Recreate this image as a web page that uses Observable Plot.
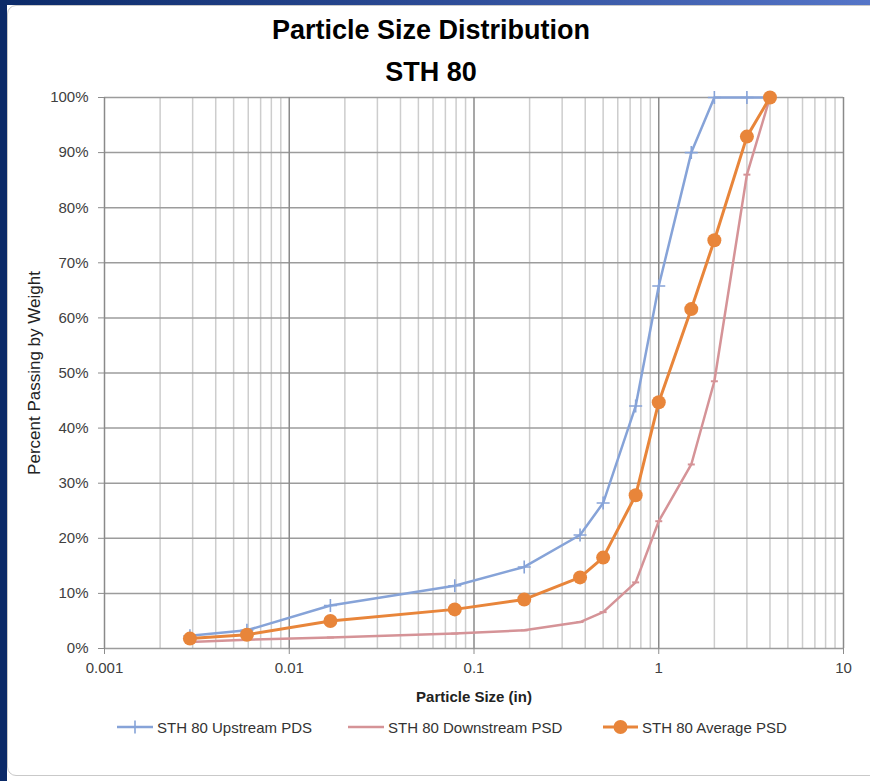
<!DOCTYPE html>
<html>
<head>
<meta charset="utf-8">
<script src="https://cdn.jsdelivr.net/npm/d3@7"></script>
<script src="https://cdn.jsdelivr.net/npm/@observablehq/plot@0.6"></script>
<style>
  html, body { margin: 0; padding: 0; background: #ffffff; }
  #page { position: relative; width: 870px; height: 781px; overflow: hidden; font-family: "Liberation Sans", Arial, sans-serif; }
  #leftband { position: absolute; left: 0; top: 0; width: 7px; height: 781px; background: #0b2a68; }
  #topband { position: absolute; left: 0; top: 0; width: 870px; height: 5px; background: linear-gradient(to right, #0b2a68, #2c4b96 50%, #5575c8); }
  #card { position: absolute; left: 7px; top: 5px; width: 866px; height: 771px; background: #fff; border: 1px solid #c9c9c9; border-radius: 9px 0 0 9px; box-sizing: border-box; }
  .title { position: absolute; left: 0; width: 862px; text-align: center; font-weight: bold; font-size: 27px; line-height: 27px; color: #000; }
  #chart { position: absolute; left: 0; top: 85px; }
  .leg { position: absolute; top: 718px; height: 18px; display: flex; align-items: center; font-size: 15px; color: #333; white-space: nowrap; }
  .leg svg { display: block; margin-right: 4px; }
</style>
</head>
<body>
<div id="page">
  <div id="topband"></div>
  <div id="leftband"></div>
  <div id="card"></div>
  <div class="title" style="top:17px">Particle Size Distribution</div>
  <div class="title" style="top:59px">STH 80</div>
  <div id="chart"></div>
  <div id="legend"></div>
</div>
<script>
// ---- data ----
const sizes = [0.0029, 0.0059, 0.0167, 0.0787, 0.187, 0.375, 0.5, 0.75, 1, 1.5, 2, 3, 4];
const upstream = [2.3, 3.3, 7.8, 11.4, 14.8, 20.6, 26.4, 44.0, 65.8, 90.0, 100, 100, 100];
const downstream = [1.2, 1.6, 2.0, 2.7, 3.3, 4.8, 6.6, 12.0, 23.1, 33.4, 48.5, 86.0, 100];
const average = [1.8, 2.5, 5.0, 7.1, 8.9, 12.9, 16.5, 27.8, 44.7, 61.6, 74.1, 92.9, 100];
const seriesNames = ["STH 80 Upstream PDS", "STH 80 Downstream PSD", "STH 80 Average PSD"];
const xTicks = [0.001, 0.01, 0.1, 1, 10];
const xTickLabels = ["0.001", "0.01", "0.1", "1", "10"];
const yTicks = [0, 10, 20, 30, 40, 50, 60, 70, 80, 90, 100];
const xLabel = "Particle Size (in)";
const yLabel = "Percent Passing by Weight";

const blue = "#86a3d8", pink = "#d59397", orange = "#e8853a";

const toRows = vals => sizes.map((s, i) => ({size: s, pct: vals[i]}));
const upRows = toRows(upstream), downRows = toRows(downstream), avgRows = toRows(average);

// minor log gridlines 2..9 within each decade
const minor = [];
for (let i = 0; i < xTicks.length - 1; i++) for (let k = 2; k <= 9; k++) minor.push(k * xTicks[i]);

const plusSym = { draw(ctx, size) { const r = Math.sqrt(size / Math.PI); ctx.moveTo(-r, 0); ctx.lineTo(r, 0); ctx.moveTo(0, -r); ctx.lineTo(0, r); } };
const dashSym = { draw(ctx, size) { const r = Math.sqrt(size / Math.PI); ctx.moveTo(-r, 0); ctx.lineTo(r, 0); } };

const chart = Plot.plot({
  width: 870, height: 630,
  marginLeft: 104, marginRight: 27, marginTop: 12, marginBottom: 67,
  style: { fontFamily: "Liberation Sans, Arial, sans-serif", fontSize: "15px", color: "#404040", background: "transparent", overflow: "visible" },
  x: { type: "log", domain: [0.001, 10] },
  y: { domain: [0, 100] },
  marks: [
    Plot.ruleX(minor, { stroke: "#cdcdcd", strokeWidth: 1.5 }),
    Plot.ruleY(yTicks, { stroke: "#9c9c9c", strokeWidth: 1.5 }),
    Plot.ruleX(xTicks, { stroke: "#8a8a8a", strokeWidth: 1.5 }),
    Plot.axisY({ ticks: yTicks, tickFormat: d => d + "%", tickSize: 6, tickPadding: 10, stroke: "#8c8c8c", label: null, fill: "#404040" }),
    Plot.axisX({ ticks: xTicks, tickFormat: d => xTickLabels[xTicks.indexOf(d)], tickSize: 6, tickPadding: 8, stroke: "#8c8c8c", label: null, fill: "#404040" }),
    Plot.text([xLabel], { text: d => d, frameAnchor: "bottom", dy: 53, fontWeight: "bold", fontSize: 15, fill: "#222" }),
    Plot.text([yLabel], { text: d => d, frameAnchor: "left", textAnchor: "middle", dx: -70, rotate: -90, fontSize: 17, fill: "#222" }),
    Plot.line(upRows, { x: "size", y: "pct", stroke: blue, strokeWidth: 2.5, strokeLinejoin: "round" }),
    Plot.dot(upRows, { x: "size", y: "pct", symbol: plusSym, r: 6.5, stroke: blue, strokeWidth: 1.6, fill: "none" }),
    Plot.line(downRows, { x: "size", y: "pct", stroke: pink, strokeWidth: 2.5, strokeLinejoin: "round" }),
    Plot.dot(downRows, { x: "size", y: "pct", symbol: dashSym, r: 3.5, stroke: pink, strokeWidth: 2, fill: "none" }),
    Plot.line(avgRows, { x: "size", y: "pct", stroke: orange, strokeWidth: 3, strokeLinejoin: "round" }),
    Plot.dot(avgRows, { x: "size", y: "pct", r: 7, fill: orange, stroke: "none" })
  ]
});
document.getElementById("chart").appendChild(chart);

// legend
const legend = document.getElementById("legend");
const legItems = [
  { name: seriesNames[0], color: blue, left: 117, w: 40, marker: "plus" },
  { name: seriesNames[1], color: pink, left: 348, w: 40, marker: "dash" },
  { name: seriesNames[2], color: orange, left: 603, w: 39, marker: "dot" }
];
for (const it of legItems) {
  const div = document.createElement("div");
  div.className = "leg";
  div.style.left = it.left + "px";
  const lw = it.w - 4, c = lw / 2;
  let m = "";
  if (it.marker === "plus") m = `<path d="M${c-6.5},9H${c+6.5}M${c},2.5V15.5" stroke="${it.color}" stroke-width="1.6"/>`;
  if (it.marker === "dash") m = `<path d="M${c-3.5},9H${c+3.5}" stroke="${it.color}" stroke-width="2"/>`;
  if (it.marker === "dot") m = `<circle cx="${c}" cy="9" r="7" fill="${it.color}"/>`;
  div.innerHTML = `<svg width="${lw}" height="18"><line x1="0" y1="9" x2="${lw}" y2="9" stroke="${it.color}" stroke-width="${it.marker === 'dot' ? 3 : 2.5}"/>${m}</svg><span>${it.name}</span>`;
  legend.appendChild(div);
}
</script>
</body>
</html>
